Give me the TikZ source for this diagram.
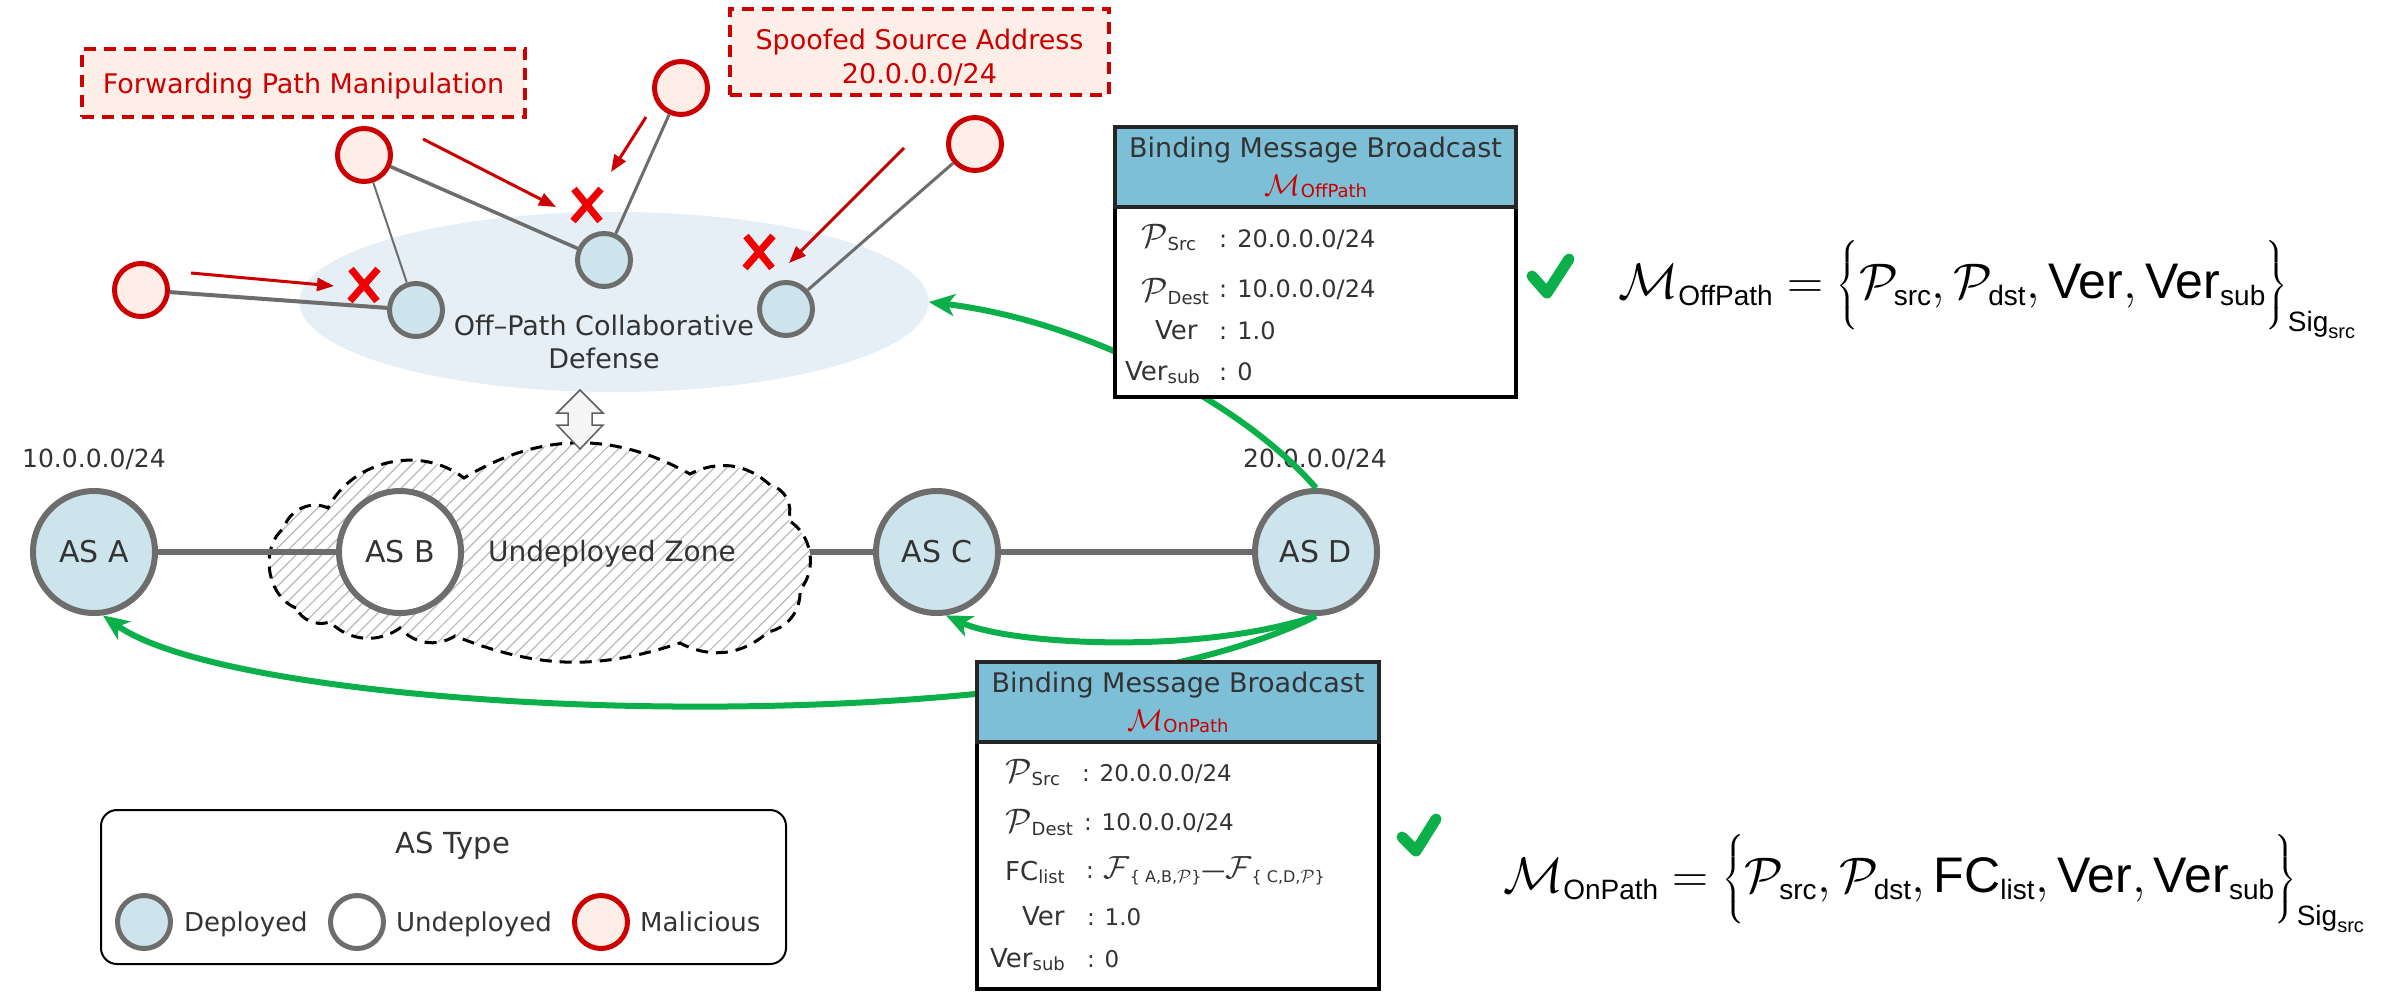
\RequirePackage{fix-cm}
\documentclass[tikz,border=0pt]{standalone}
\usepackage{amsmath}
\usepackage[no-math]{fontspec}
\setmainfont{DejaVu Sans}
\newfontfamily\hv{Liberation Sans}
\usetikzlibrary{shapes.geometric,arrows.meta,patterns.meta}
\pgfdeclarelayer{bg}
\pgfsetlayers{bg,main}
\DeclareMathSizes{50}{50}{28}{20}
\definecolor{depfill}{HTML}{CDE4EC}
\definecolor{nodegray}{HTML}{6D6D6D}
\definecolor{malfill}{HTML}{FDEEE8}
\definecolor{malred}{HTML}{CC0000}
\definecolor{xred}{HTML}{F00000}
\definecolor{ellfill}{HTML}{E6EFF5}
\definecolor{hdrfill}{HTML}{7CBFD7}
\definecolor{okgreen}{HTML}{0CB04A}
\definecolor{txt}{HTML}{333333}
\newcommand\fs[1]{\fontsize{#1}{#1}\selectfont}
\newcommand\Pc{{\fs{34}$\mathcal{P}$}}
\newcommand\sbx[1]{\raisebox{-3pt}{\fs{18}#1}}
\newcommand\hvt[1]{\text{\hv #1}}
\newcommand\Fexpr{{\fs{32}$\mathcal{F}$}\raisebox{-4pt}{\fs{16}\{ A,B,{\fs{18}$\mathcal{P}$}\}}{\fs{24}—}{\fs{32}$\mathcal{F}$}\raisebox{-4pt}{\fs{16}\{ C,D,{\fs{18}$\mathcal{P}$}\}}}
\begin{document}
\begin{tikzpicture}[x=1pt,y=-1pt,
  every node/.append style={text=txt},
  asnode/.style={circle, draw=nodegray, line width=6pt, minimum size=122pt, inner sep=0pt, font=\fs{30}},
  dep/.style={asnode, fill=depfill},
  undep/.style={asnode, fill=white},
  smallnode/.style={circle, line width=5pt, minimum size=53pt, inner sep=0pt},
  smalldep/.style={smallnode, draw=nodegray, fill=depfill},
  smallmal/.style={smallnode, draw=malred, fill=malfill},
  smallundep/.style={smallnode, draw=nodegray, fill=white},
  aslink/.style={draw=nodegray, line width=6pt},
  glink/.style={draw=nodegray, line width=3pt},
  redarrow/.style={draw=malred, line width=3pt, -{Triangle[length=17pt,width=13pt]}},
  xmark/.style={draw=xred, line width=7pt},
  greenarrow/.style={draw=okgreen, line width=6pt, -{Stealth[length=26pt,width=22pt,inset=7pt]}},
  attackbox/.style={draw=malred, dash pattern=on 12pt off 8pt, line width=4pt, fill=malfill, inner sep=0pt},
  cloudst/.style={draw=black, dash pattern=on 12pt off 8pt, line width=3pt, preaction={fill=white}, pattern={Lines[angle=45,distance=9pt,line width=1.2pt]}, pattern color=gray!55},
  msgbox/.style={draw=black, line width=4pt, fill=white, inner sep=0pt},
  hdrbar/.style={fill=hdrfill, draw=black!85, line width=4pt},
  check/.style={draw=okgreen, line width=11pt, line cap=round, line join=round},
  tb/.style={inner sep=0pt, anchor=base west},
  tc/.style={inner sep=0pt, anchor=base},
]
\useasboundingbox (0,0) rectangle (2381,991);

% ---- off-path collaborative defense zone
\node[ellipse, fill=ellfill, minimum width=629pt, minimum height=180pt, inner sep=0pt] (opd) at (614,302) {};
\node[smalldep] (d1) at (604,260) {};
\node[smalldep] (d2) at (416,310) {};
\node[smalldep] (d3) at (786,309) {};
\node[smallmal] (m1) at (681,88) {};
\node[smallmal] (m2) at (364,155) {};
\node[smallmal] (m3) at (975,144) {};
\node[smallmal] (m4) at (141,290) {};
\draw[glink, line width=4pt] (m4) -- (d2);
\draw[glink, line width=2pt] (m2) -- (d2);
\draw[glink, line width=3.5pt] (m2) -- (d1);
\draw[glink] (m1) -- (d1);
\draw[glink] (m3) -- (d3);

\coordinate (a1s) at (423,139); \coordinate (a1e) at (556,207);
\coordinate (a2s) at (646,117); \coordinate (a2e) at (611,172);
\coordinate (a3s) at (904,148); \coordinate (a3e) at (789,263);
\coordinate (a4s) at (191,273); \coordinate (a4e) at (334,286);
\draw[redarrow] (a1s) -- (a1e);
\draw[redarrow] (a2s) -- (a2e);
\draw[redarrow] (a3s) -- (a3e);
\draw[redarrow] (a4s) -- (a4e);
\foreach \x/\y in {587/205, 364/285, 759/252}
  \draw[xmark] (\x-13,\y-16) -- (\x+13,\y+16) (\x+14,\y-16) -- (\x-14,\y+16);

\node[attackbox, minimum width=443pt, minimum height=68pt] (fpmbox) at (303.5,83) {};
\node[tc, font=\fs{27}, text=malred] (fpmtext) at (303.5,93) {Forwarding Path Manipulation};
\node[attackbox, minimum width=379pt, minimum height=86pt] (ssabox) at (919.5,52) {};
\node[tc, font=\fs{27}, text=malred] (ssa1) at (919.5,49) {Spoofed Source Address};
\node[tc, font=\fs{27}, text=malred] (ssa2) at (919.5,83) {20.0.0.0/24};

\node[tc, font=\fs{27}] (opdt1) at (604,335) {Off–Path Collaborative};
\node[tc, font=\fs{27}] (opdt2) at (604,368) {Defense};

% double arrow
\draw[fill=gray!8, draw=gray!75!black, line width=1.5pt]
  (580,390) -- (603,413) -- (592,413) -- (592,425) -- (603,425) -- (580,449)
  -- (557,425) -- (568,425) -- (568,413) -- (557,413) -- cycle;

% ---- AS chain
\node[dep] (A) at (94,552) {AS A};
\node[undep] (B) at (400,552) {AS B};
\node[dep] (C) at (937,552) {AS C};
\node[dep] (D) at (1316,552) {AS D};
\begin{pgfonlayer}{bg}
\fill[white] (0,0) rectangle (2381,991);
\draw[aslink] (B) -- (C);
\draw[cloudst] (296,608) to[bend left=60] (284,528) to[bend left=50] (328,508)
  to[bend left=50] (464,478) to[bend left=30] (690,474) to[bend left=35] (770,485)
  to[bend left=50] (788,520) to[bend left=50] (800,590) to[bend left=40] (768,632)
  to[bend left=35] (680,643) to[bend left=20] (455,636) to[bend left=40] (400,628)
  to[bend left=40] (330,622) to[bend left=40] (296,608) -- cycle;
\draw[aslink] (A) -- (B);
\draw[aslink] (C) -- (D);
\end{pgfonlayer}
\node[tc, font=\fs{28}] (uz) at (612,561) {Undeployed Zone};
\node[tc, font=\fs{25}] (pa) at (94,467) {10.0.0.0/24};
\node[tc, font=\fs{25}] (pd) at (1315,467) {20.0.0.0/24};

% ---- green arrows
\draw[greenarrow] (D.north) .. controls (1240,400) and (1080,320) .. (opd.east);
\draw[greenarrow] (D.south) .. controls (1200,655) and (1010,645) .. (C.278);
\draw[greenarrow] (D.south) .. controls (1050,750) and (250,720) .. (A.278);

% ---- off-path message box
\node[msgbox, minimum width=401pt, minimum height=270pt] (offbox) at (1315.5,262) {};
\draw[hdrbar] (1115,127) rectangle (1516,207);
\node[tc, font=\fs{27}] (offtitle) at (1315.5,157) {Binding Message Broadcast};
\node[tc, text=malred] (offm) at (1316,195) {{\fs{30}$\mathcal{M}$}\raisebox{-2pt}{\fs{18}OffPath}};
\node[tb] (o1l) at (1141,247) {\Pc\sbx{Src}};
\node[tb, font=\fs{24}] (o1v) at (1219,247) {: 20.0.0.0/24};
\node[tb] (o2l) at (1141,301) {\Pc\sbx{Dest}};
\node[tb, font=\fs{24}] (o2v) at (1219,297) {: 10.0.0.0/24};
\node[tb, font=\fs{26}] (o3l) at (1155,339) {Ver};
\node[tb, font=\fs{24}] (o3v) at (1219,339) {: 1.0};
\node[tb, font=\fs{26}] (o4l) at (1125,380) {Ver\sbx{sub}};
\node[tb, font=\fs{24}] (o4v) at (1219,380) {: 0};

% ---- on-path message box
\node[msgbox, minimum width=402pt, minimum height=327pt] (onbox) at (1178,825.5) {};
\draw[hdrbar] (977,662) rectangle (1379,742);
\node[tc, font=\fs{27}] (ontitle) at (1178,692) {Binding Message Broadcast};
\node[tc, text=malred] (onm) at (1178,730) {{\fs{30}$\mathcal{M}$}\raisebox{-2pt}{\fs{18}OnPath}};
\node[tb] (n1l) at (1005,782) {\Pc\sbx{Src}};
\node[tb, font=\fs{23}] (n1v) at (1082,781) {: 20.0.0.0/24};
\node[tb] (n2l) at (1005,832) {\Pc\sbx{Dest}};
\node[tb, font=\fs{23}] (n2v) at (1084,830) {: 10.0.0.0/24};
\node[tb, font=\fs{26}] (n3l) at (1005,880) {FC\sbx{list}};
\node[tb, font=\fs{23}] (n3v) at (1086,878) {: \Fexpr};
\node[tb, font=\fs{26}] (n4l) at (1022,925) {Ver};
\node[tb, font=\fs{23}] (n4v) at (1087,925) {: 1.0};
\node[tb, font=\fs{26}] (n5l) at (990,967) {Ver\sbx{sub}};
\node[tb, font=\fs{23}] (n5v) at (1087,967) {: 0};

% ---- check marks
\draw[check] (1532,276) -- (1547,293) -- (1569,259);
\draw[check] (1402,837) -- (1416,851) -- (1436,819);

% ---- formulas
\node[tb, text=black] (offform) at (1618,298) {\fontsize{50}{60}\selectfont$\mathcal{M}_{\hvt{OffPath}} = \Big\{ \mathcal{P}_{\hvt{src}}, \mathcal{P}_{\hvt{dst}}, \hvt{Ver}, \hvt{Ver}_{\hvt{sub}} \Big\}_{\hvt{Sig}_{\hvt{src}}}$};
\node[tb, text=black] (onform) at (1503,892) {\fontsize{50}{60}\selectfont$\mathcal{M}_{\hvt{OnPath}} = \Big\{ \mathcal{P}_{\hvt{src}}, \mathcal{P}_{\hvt{dst}}, \hvt{FC}_{\hvt{list}}, \hvt{Ver}, \hvt{Ver}_{\hvt{sub}} \Big\}_{\hvt{Sig}_{\hvt{src}}}$};

% ---- legend
\node[draw=black, line width=2pt, rounded corners=16pt, minimum width=685pt, minimum height=154pt, inner sep=0pt] (legend) at (443.5,887) {};
\node[tc, font=\fs{29}] (legtitle) at (453,853) {AS Type};
\node[smalldep] (lg1) at (144,922) {};
\node[tb, font=\fs{26}] (lg1t) at (184,931) {Deployed};
\node[smallundep] (lg2) at (357,922) {};
\node[tb, font=\fs{26}] (lg2t) at (396,931) {Undeployed};
\node[smallmal] (lg3) at (601,922) {};
\node[tb, font=\fs{26}] (lg3t) at (640,931) {Malicious};
\end{tikzpicture}
\end{document}
